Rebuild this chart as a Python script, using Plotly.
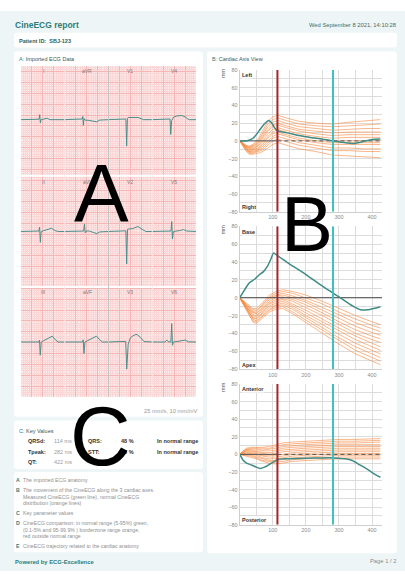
import plotly.graph_objects as go

W, H = 405, 574
FONT = "Liberation Sans, Arial, sans-serif"
TEAL = "#2f7d79"
GREEN = "#3f8b86"
ORANGE = "rgba(247,140,70,0.8)"
RED = "#a3262a"
CYAN = "#3ec0c0"

# ---------------- Panel A: ECG leads (ms within an 800 ms column, mV) ----------------
LEAD_ROWS = [["I", "aVR", "V1", "V4"], ["II", "aVL", "V2", "V5"], ["III", "aVF", "V3", "V6"]]
I_T = [0, 300, 330, 342, 354, 366, 390, 430, 480, 530, 800]
I_MV = [0, 0, 0.02, 0.23, -0.15, 0.0, 0.02, 0.05, 0.06, 0.0, 0]
AVR_T = [0, 290, 318, 330, 340, 352, 370, 430, 520, 585, 640, 800]
AVR_MV = [0, 0, 0.03, 0.15, -0.26, 0.05, -0.02, -0.03, -0.08, -0.1, -0.02, 0]
V1_T = [0, 300, 318, 332, 346, 370, 450, 540, 600, 640, 800]
V1_MV = [0, 0, 0.03, -1.22, 0.06, 0.1, 0.1, 0.1, 0.04, 0.0, 0]
V4_T = [0, 300, 325, 338, 355, 390, 450, 540, 600, 650, 680, 800]
V4_MV = [0, 0, 0.03, -0.68, -0.05, 0.12, 0.17, 0.19, 0.13, 0.03, 0, 0]
II_T = [0, 300, 328, 340, 354, 368, 390, 470, 560, 620, 680, 800]
II_MV = [0, 0, 0.02, 0.2, -0.5, 0.0, 0.02, 0.06, 0.15, 0.04, 0, 0]
AVL_T = [0, 320, 345, 360, 374, 390, 450, 530, 585, 640, 800]
AVL_MV = [0, 0, 0.02, 0.35, -0.06, 0.02, 0.02, -0.05, -0.1, -0.02, 0]
V2_T = [0, 300, 318, 332, 348, 380, 440, 536, 600, 680, 800]
V2_MV = [0, 0, 0.03, -1.5, 0.1, 0.12, 0.13, 0.23, 0.12, 0.0, 0]
V5_T = [0, 320, 343, 356, 370, 386, 430, 520, 572, 630, 800]
V5_MV = [0, 0, 0.02, 0.46, -0.35, 0.0, 0.01, 0.05, 0.09, 0.02, 0]
III_T = [0, 300, 328, 338, 352, 370, 400, 480, 572, 630, 680, 800]
III_MV = [0, 0, 0.0, 0.09, -0.61, 0.0, 0.04, 0.12, 0.27, 0.1, 0.0, 0]
AVF_T = [0, 300, 328, 338, 352, 370, 400, 480, 580, 640, 690, 800]
AVF_MV = [0, 0, 0.0, 0.1, -0.53, 0.0, 0.04, 0.12, 0.27, 0.1, 0.0, 0]
V3_T = [0, 290, 315, 333, 360, 400, 470, 520, 580, 650, 800]
V3_MV = [0, 0, 0.03, -1.25, -0.1, 0.2, 0.32, 0.35, 0.22, 0.02, 0]
V6_T = [0, 230, 268, 300, 340, 356, 370, 386, 450, 540, 603, 660, 800]
V6_MV = [0, 0, 0.09, 0, 0, 0.85, -0.15, 0.0, 0.02, 0.05, 0.09, 0.01, 0]

LEADS = {
    "I": (I_T, I_MV), "aVR": (AVR_T, AVR_MV), "V1": (V1_T, V1_MV), "V4": (V4_T, V4_MV),
    "II": (II_T, II_MV), "aVL": (AVL_T, AVL_MV), "V2": (V2_T, V2_MV), "V5": (V5_T, V5_MV),
    "III": (III_T, III_MV), "aVF": (AVF_T, AVF_MV), "V3": (V3_T, V3_MV), "V6": (V6_T, V6_MV),
}
COLUMN_MS = 800
ROW_BASELINE_MV = [12.79, 7.63, 2.53]

# ---------------- Key values ----------------
QRSD_MS = 114
TPEAK_MS = 282
QT_MS = 422
QRS_PCT = 48
STT_PCT = 56

# ---------------- Panel B: cardiac axis view ----------------
AXIS_NAMES = [("Left", "Right"), ("Base", "Apex"), ("Anterior", "Posterior")]

LR_X = [0, 8, 18, 28, 40, 55, 70, 85, 100, 115, 140, 180, 230, 280, 330, 380, 425]
LR_NORMAL = [
    [0, -2, -5, -6, -4, 2, 12, 22, 27, 29, 26, 22, 20, 19, 21, 23, 24],
    [0, -2, -5, -7, -5, 0, 9, 19, 24, 26, 23, 19, 17, 16, 17, 18, 19],
    [0, -3, -6, -7, -6, -2, 7, 16, 21, 23, 20, 16, 14, 12, 13, 14, 14],
    [0, -3, -6, -8, -7, -3, 5, 13, 18, 20, 17, 13, 11, 9, 10, 10, 10],
    [0, -3, -7, -9, -8, -5, 3, 11, 16, 18, 15, 11, 8, 6, 7, 7, 7],
    [0, -3, -7, -10, -9, -6, 0, 8, 13, 15, 12, 8, 5, 3, 4, 4, 4],
    [0, -4, -8, -11, -10, -8, -2, 5, 10, 13, 10, 6, 3, 0, 0, 0, 0],
    [0, -4, -8, -12, -11, -9, -4, 3, 8, 10, 7, 3, 0, -2, -2, -2, -2],
    [0, -4, -9, -12, -12, -10, -6, 0, 5, 8, 5, 1, -2, -4, -4, -4, -4],
    [0, -4, -9, -13, -13, -11, -8, -2, 3, 5, 2, -2, -5, -8, -8, -9, -9],
    [0, -5, -10, -14, -14, -12, -10, -5, 0, 2, -1, -5, -8, -11, -11, -12, -12],
    [0, -5, -11, -15, -15, -14, -12, -8, -4, -2, -5, -9, -12, -16, -17, -18, -19],
]
LR_MEAS_X = [0, 10, 20, 30, 40, 50, 60, 70, 80, 87, 95, 105, 112, 130, 150, 180, 210, 250, 283, 310, 343, 370, 400, 425]
LR_MEAS_Y = [0, 0, 0, 1, 3, 7, 12, 17, 21, 23, 21, 15, 12, 10, 8.5, 6, 4, 2, 0, -1.5, -3, -1, 1.5, 2]

BA_X = [0, 10, 20, 30, 40, 50, 60, 75, 90, 110, 130, 160, 200, 250, 300, 350, 400, 425]
BA_NORMAL = [
    [0, -3, -7, -10, -12, -12, -9, -3, 3, 7, 9, 7, 3, -4, -12, -20, -27, -30],
    [0, -3, -8, -11, -13, -14, -11, -5, 1, 5, 7, 5, 0, -7, -16, -24, -31, -34],
    [0, -4, -8, -12, -15, -15, -12, -6, 0, 3, 5, 2, -3, -11, -19, -28, -35, -38],
    [0, -4, -9, -13, -16, -17, -14, -8, -2, 2, 3, 0, -5, -14, -23, -32, -39, -42],
    [0, -4, -10, -14, -17, -18, -15, -10, -4, 0, 1, -2, -8, -17, -27, -36, -43, -46],
    [0, -5, -10, -15, -19, -20, -17, -11, -6, -2, -1, -4, -11, -20, -30, -40, -47, -50],
    [0, -5, -11, -16, -20, -21, -18, -13, -7, -4, -2, -7, -14, -24, -34, -43, -51, -55],
    [0, -5, -11, -17, -22, -23, -20, -14, -9, -6, -4, -9, -17, -27, -37, -47, -55, -59],
    [0, -6, -12, -18, -23, -24, -21, -16, -11, -8, -6, -11, -20, -30, -41, -51, -59, -63],
    [0, -6, -13, -19, -24, -26, -23, -18, -13, -9, -8, -13, -22, -33, -45, -55, -63, -67],
    [0, -7, -13, -20, -26, -27, -24, -19, -14, -11, -10, -16, -25, -37, -48, -59, -67, -71],
    [0, -7, -14, -21, -27, -29, -26, -21, -16, -13, -12, -18, -28, -40, -52, -63, -71, -75],
]
BA_MEAS_X = [0, 10, 20, 30, 46, 60, 71, 85, 95, 102, 115, 150, 200, 250, 283, 300, 320, 345, 365, 385, 405, 425]
BA_MEAS_Y = [0, 6, 12, 17, 21, 26, 29, 36, 44, 50, 47, 38, 26, 13, 5, 1, -4, -10, -13.5, -13.5, -12, -10]

AP_X = [0, 10, 20, 35, 50, 70, 90, 110, 130, 160, 200, 250, 300, 350, 400, 425]
AP_NORMAL = [
    [0, 4, 7, 8, 8, 8, 9, 11, 13, 14, 15, 16, 17, 17, 18, 18],
    [0, 4, 6, 7, 7, 7, 7, 9, 11, 12, 13, 14, 15, 15, 16, 16],
    [0, 3, 5, 6, 6, 5, 6, 7, 9, 10, 11, 12, 13, 13, 14, 14],
    [0, 3, 5, 5, 4, 4, 4, 5, 7, 8, 9, 10, 11, 11, 11, 11],
    [0, 2, 4, 4, 3, 2, 2, 3, 5, 6, 7, 8, 9, 9, 9, 9],
    [0, 2, 3, 3, 2, 1, 0, 1, 3, 4, 5, 6, 7, 7, 7, 7],
    [0, 1, 2, 2, 1, -1, -1, -1, 0, 2, 3, 4, 5, 5, 5, 5],
    [0, 1, 1, 1, 0, -2, -3, -3, -2, 0, 1, 2, 3, 3, 3, 3],
    [0, 0, 0, 0, -1, -4, -5, -5, -4, -2, -1, 0, 1, 1, 1, 1],
    [0, 0, 0, -1, -3, -5, -7, -7, -6, -4, -3, -2, -1, -1, -1, -1],
    [0, -1, -1, -2, -4, -7, -8, -9, -8, -6, -5, -4, -3, -3, -3, -3],
    [0, -1, -2, -3, -5, -8, -10, -11, -10, -8, -7, -6, -5, -5, -5, -5],
]
AP_MEAS_X = [0, 11, 21, 35, 50, 61, 75, 87, 100, 117, 150, 200, 250, 283, 320, 340, 363, 390, 410, 425]
AP_MEAS_Y = [0, -7, -10, -12, -14.5, -16, -14.5, -12, -9, -5.5, -5, -4.5, -4, -4, -5, -7, -12, -18, -23, -26]

X_TICKS = [100, 200, 300, 400]
X_RANGE = [0, 430]
Y_RANGE = [-80, 80]

LEGEND_LINES = [
    ("A", "The imported ECG anatomy"),
    ("B", "The movement of the CineECG along the 3 cardiac axes."),
    ("", "Measured CineECG (green line), normal CineECG"),
    ("", "distribution (orange lines)"),
    ("C", "Key parameter values"),
    ("D", "CineECG comparison: in normal range (5-95%) green,"),
    ("", "(0.1-5% and 95-99.9% ) borderzone range orange,"),
    ("", "red outside normal range"),
    ("E", "CineECG trajectory related to the cardiac anatomy"),
]


# ---------------- helpers ----------------
def px(x):
    return x / W


def py(y):
    return 1 - y / H


def card(x0, y0, x1, y1, r=3, fill="white"):
    rx, ry = r / W, r / H
    X0, X1 = px(x0), px(x1)
    Y0, Y1 = py(y0), py(y1)  # Y0 top (larger), Y1 bottom
    path = (f"M {X0+rx},{Y0} L {X1-rx},{Y0} Q {X1},{Y0} {X1},{Y0-ry} "
            f"L {X1},{Y1+ry} Q {X1},{Y1} {X1-rx},{Y1} L {X0+rx},{Y1} "
            f"Q {X0},{Y1} {X0},{Y1+ry} L {X0},{Y0-ry} Q {X0},{Y0} {X0+rx},{Y0} Z")
    return dict(type="path", path=path, xref="paper", yref="paper",
                fillcolor=fill, line=dict(width=0), layer="below")


annotations = []


def txt(x, y, s, size=5.5, color="#555", anchor="left", bg=None, yanchor="middle", family=FONT, angle=0):
    a = dict(x=px(x), y=py(y), xref="paper", yref="paper", text=s, showarrow=False,
             xanchor=anchor, yanchor=yanchor, textangle=angle,
             font=dict(size=size, color=color, family=family), borderpad=0)
    if bg:
        a["bgcolor"] = bg
    annotations.append(a)


fig = go.Figure()

# ---------------- Panel B traces ----------------
B_LEFT, B_RIGHT = 239.7, 382
B_TB = [(67.7, 211), (225.7, 370), (385, 527.3)]
panels = [(LR_X, LR_NORMAL, LR_MEAS_X, LR_MEAS_Y, True),
          (BA_X, BA_NORMAL, BA_MEAS_X, BA_MEAS_Y, False),
          (AP_X, AP_NORMAL, AP_MEAS_X, AP_MEAS_Y, True)]
for i, (nx, normal, mx, my, dashed) in enumerate(panels):
    xa = "x" if i == 0 else f"x{i+1}"
    ya = "y" if i == 0 else f"y{i+1}"
    for row in normal:
        fig.add_trace(go.Scatter(x=nx, y=row, mode="lines", xaxis=xa, yaxis=ya,
                                 line=dict(color=ORANGE, width=0.8), hoverinfo="skip", showlegend=False))
    # zero reference
    if dashed:
        fig.add_trace(go.Scatter(x=[X_RANGE[0], QRSD_MS], y=[0, 0], mode="lines", xaxis=xa, yaxis=ya,
                                 line=dict(color="#555", width=1), showlegend=False))
        fig.add_trace(go.Scatter(x=[QRSD_MS, X_RANGE[1]], y=[0, 0], mode="lines", xaxis=xa, yaxis=ya,
                                 line=dict(color="#555", width=1, dash="4px,3px"), showlegend=False))
    else:
        fig.add_trace(go.Scatter(x=X_RANGE, y=[0, 0], mode="lines", xaxis=xa, yaxis=ya,
                                 line=dict(color="#444", width=1), showlegend=False))
    fig.add_trace(go.Scatter(x=mx, y=my, mode="lines", xaxis=xa, yaxis=ya,
                             line=dict(color=GREEN, width=1.5, shape="spline", smoothing=0.6), showlegend=False))
    fig.add_trace(go.Scatter(x=[QRSD_MS, QRSD_MS], y=Y_RANGE, mode="lines", xaxis=xa, yaxis=ya,
                             line=dict(color=RED, width=2), showlegend=False))
    fig.add_trace(go.Scatter(x=[TPEAK_MS, TPEAK_MS], y=Y_RANGE, mode="lines", xaxis=xa, yaxis=ya,
                             line=dict(color=CYAN, width=2), showlegend=False))

# ---------------- Panel A traces ----------------
for r, names in enumerate(LEAD_ROWS):
    for c, name in enumerate(names):
        t, mv = LEADS[name]
        fig.add_trace(go.Scatter(x=[c * COLUMN_MS + v for v in t],
                                 y=[ROW_BASELINE_MV[r] + v for v in mv],
                                 mode="lines", xaxis="x4", yaxis="y4",
                                 line=dict(color="#4a8f8a", width=1), showlegend=False, hoverinfo="skip"))

# ---------------- layout ----------------
layout = dict(width=W, height=H, margin=dict(l=0, r=0, t=0, b=0),
              paper_bgcolor="white", plot_bgcolor="rgba(0,0,0,0)", showlegend=False,
              font=dict(family=FONT))
grid = "#dcdcdc"
for i, (top, bot) in enumerate(B_TB):
    xk = "xaxis" if i == 0 else f"xaxis{i+1}"
    yk = "yaxis" if i == 0 else f"yaxis{i+1}"
    layout[xk] = dict(domain=[px(B_LEFT), px(B_RIGHT)], range=X_RANGE, anchor="y" if i == 0 else f"y{i+1}",
                      tickvals=X_TICKS, showgrid=True, gridcolor=grid, gridwidth=1,
                      minor=dict(dtick=50, tick0=0, showgrid=True, gridcolor=grid, gridwidth=1),
                      zeroline=False, showline=True, linecolor="#cfcfcf", linewidth=1,
                      tickfont=dict(size=5.5, color="#8a8a8a"), fixedrange=True)
    layout[yk] = dict(domain=[py(bot), py(top)], range=Y_RANGE, anchor="x" if i == 0 else f"x{i+1}",
                      dtick=20, tick0=0, showgrid=True, gridcolor=grid, gridwidth=1,
                      minor=dict(dtick=10, tick0=0, showgrid=True, gridcolor=grid, gridwidth=1),
                      zeroline=False, showline=True, linecolor="#cfcfcf", linewidth=1,
                      tickfont=dict(size=5.5, color="#8a8a8a"), fixedrange=True)

ECG_X0, ECG_X1, ECG_Y0, ECG_Y1 = 21, 196, 64, 398
layout["xaxis4"] = dict(domain=[px(ECG_X0), px(ECG_X1)], range=[0, 4 * COLUMN_MS], anchor="y4",
                        showticklabels=False, zeroline=False, dtick=200, tick0=0,
                        showgrid=True, gridcolor="#f6b6b6", gridwidth=1,
                        minor=dict(dtick=40, tick0=0, showgrid=True, gridcolor="#fad6d6", gridwidth=0.5))
layout["yaxis4"] = dict(domain=[py(ECG_Y1), py(ECG_Y0)], range=[0, 15.25], anchor="x4",
                        showticklabels=False, zeroline=False, dtick=0.5, tick0=0,
                        showgrid=True, gridcolor="#f6b6b6", gridwidth=1,
                        minor=dict(dtick=0.1, tick0=0, showgrid=True, gridcolor="#fad6d6", gridwidth=0.5))

shapes = [
    dict(type="rect", xref="paper", yref="paper", x0=0, x1=1, y0=0, y1=py(8),
         fillcolor="#eef5f6", line=dict(width=0), layer="below"),
    card(14, 30, 397, 45),
    card(14, 49, 203, 418),
    card(207, 49, 397, 556),
    card(14, 422, 203, 471),
    card(14, 474, 203, 555),
    dict(type="rect", xref="x4 domain", yref="y4 domain", x0=0, x1=1, y0=0, y1=1,
         fillcolor="#fde8e8", line=dict(width=0), layer="below"),
]
# row separators / column separators in ECG grid
for yv in (5.07, 10.2):
    shapes.append(dict(type="line", xref="x4 domain", yref="y4", x0=0, x1=1, y0=yv, y1=yv,
                       line=dict(color="white", width=2), layer="above"))
for c in (1, 2, 3):
    shapes.append(dict(type="line", xref="x4", yref="y4 domain", x0=c * COLUMN_MS, x1=c * COLUMN_MS, y0=0, y1=1,
                       line=dict(color="#c4c4c4" if c == 2 else "#f6eeee", width=1), layer="above"))
layout["shapes"] = shapes

# ---------------- texts ----------------
txt(14, 22, "<b>CineECG report</b>", size=8.5, color=TEAL)
txt(397, 22, "Wed September 8 2021, 14:10:28", size=5.8, color="#3e6d6a", anchor="right")
txt(18, 38, "<b>Patient ID:  SBJ-123</b>", size=5.5, color="#2e5f5c")
txt(18, 57, "<span style='color:%s'>A:</span> Imported ECG Data" % TEAL, size=5.5, color="#3b5856")
txt(211, 57, "<span style='color:%s'>B:</span> Cardiac Axis View" % TEAL, size=5.5, color="#3b5856")
txt(18, 432.5, "<span style='color:%s'>C:</span> Key Values" % TEAL, size=5.5, color="#3b5856")

# lead labels
row_label_y = [69, 181, 292]
col_centers = [43, 87, 130, 174]
for r, names in enumerate(LEAD_ROWS):
    for c, name in enumerate(names):
        txt(col_centers[c], row_label_y[r], name, size=5, color="#7a7a7a", anchor="center")
txt(199, 412, "25 mm/s, 10 mm/mV", size=5.8, color="#9a9a9a", anchor="right")

# key values
kv_rows = [("QRSd:", f"{QRSD_MS} ms", "QRS:", f"{QRS_PCT} %", "In normal range"),
           ("Tpeak:", f"{TPEAK_MS} ms", "STT:", f"{STT_PCT} %", "In normal range"),
           ("QT:", f"{QT_MS} ms", "", "", "")]
for k, (a, b, c_, d, e) in enumerate(kv_rows):
    yy = 442.7 + k * 10.6
    txt(26.5, yy, f"<b>{a}</b>", color="#333")
    txt(53, yy, b, color="#9a9a9a")
    if c_:
        txt(87, yy, f"<b>{c_}</b>", color="#333")
        txt(120, yy, f"<b>{d}</b>", color="#333")
        txt(156, yy, f"<b>{e}</b>", color="#333")

# legend card
legend_y = [482.3, 492.3, 499, 505.7, 515.7, 525.7, 532.3, 539, 549]
for (letter, line), yy in zip(LEGEND_LINES, legend_y):
    if letter:
        txt(15, yy, f"<b>{letter}</b>", size=5.2, color=TEAL)
    txt(21.7, yy, line, size=5.2, color="#8f8f8f")

txt(14, 565, "<b>Powered by ECG-Excellence</b>", size=5.8, color=TEAL)
txt(397, 563.5, "Page 1 / 2", size=5.8, color="#8a8a8a", anchor="right")

# axis annotations for panel B
for i, ((topname, botname), (top, bot)) in enumerate(zip(AXIS_NAMES, B_TB)):
    txt(241, top + 5.5, f"<b>{topname}</b>", size=5.5, color="#333", bg="white")
    txt(241, bot - 4.5, f"<b>{botname}</b>", size=5.5, color="#333", bg="white")
    txt(223, top + 3, "mm", size=5.5, color="#555", anchor="center", angle=-90)

# big overlay letters
txt(101, 192, "A", size=82, color="black", anchor="center", family="Liberation Sans, Arial")
txt(306.5, 223, "B", size=78, color="black", anchor="center", family="Liberation Sans, Arial")
txt(100, 438, "C", size=84, color="black", anchor="center", family="Liberation Sans, Arial")

layout["annotations"] = annotations
fig.update_layout(**layout)
fig.write_html("out.html", config={"displayModeBar": False},
               post_script="document.body.style.margin='0px';document.body.style.overflow='hidden';")
